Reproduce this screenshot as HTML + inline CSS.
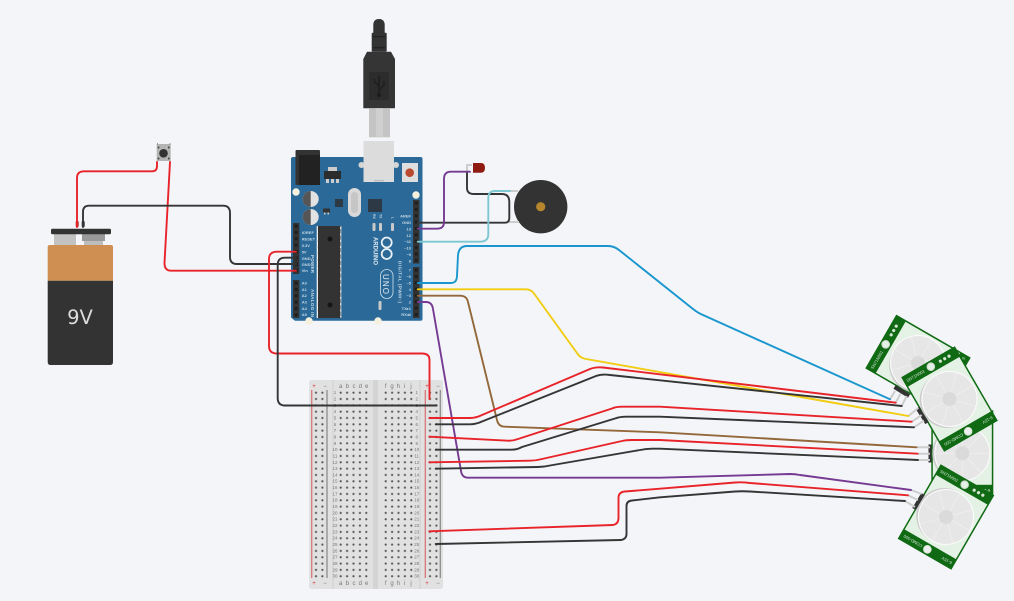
<!DOCTYPE html>
<html><head><meta charset="utf-8"><style>
html,body{margin:0;padding:0;background:#f3f5f8}
svg{display:block}
text{font-family:"Liberation Sans",sans-serif}
.w{fill:none;stroke-width:1.9;stroke-linecap:round;stroke-linejoin:round}
.r{stroke:#e8232a}.k{stroke:#353535}
.s{stroke:#cdcdcd;stroke-width:2;fill:none}
.l{font-size:4px;fill:#c3d6e4;font-weight:bold}
.n{font-size:4.5px;fill:#777;text-anchor:middle}
</style></head><body>
<svg width="1014" height="601" viewBox="0 0 1014 601" xmlns="http://www.w3.org/2000/svg">
<defs>
<pattern id="d" width="6.4" height="6.33" patternUnits="userSpaceOnUse"><circle cx="3.2" cy="3.17" r="1.1" fill="#555"/></pattern>
<pattern id="p" width="6.4" height="6.35" patternUnits="userSpaceOnUse"><rect width="6.4" height="6.35" fill="#333"/><rect x="1.7" y="1.6" width="3" height="3" fill="#1d1d1d"/></pattern>
<g id="pir">
<rect x="-31" y="-43" width="62" height="86" fill="#0f6a13"/>
<rect x="-29.5" y="-31.5" width="59" height="63" fill="#e4f1e5"/>
<circle cx="-2" cy="0" r="28" fill="#cbcbcb"/>
<circle cx="0" cy="0" r="27.5" fill="#e6e6e6" stroke="#fafafa" stroke-width="1.2"/>
<path d="M0-27V27M-27 0H27M-19-19L19 19M-19 19L19-19" stroke="#efefef" stroke-width=".8"/>
<circle cx="0" cy="0" r="7" fill="#dadada"/>
<circle cx="0" cy="-37.3" r="3.8" fill="#e3f0e3" stroke="#d0d8d0"/>
<circle cx="0" cy="37.3" r="3.8" fill="#eee" stroke="#d8e8d8"/>
<circle cx="11" cy="-37.3" r="1.6" fill="#d8e6d8"/><circle cx="16" cy="-37.3" r="1.6" fill="#d8e6d8"/><circle cx="21" cy="-37.3" r="1.6" fill="#d8e6d8"/>
<text x="-28" y="-35.6" font-size="4.2" fill="#cfe3cf">SN71N001</text>
<text transform="translate(-6,35.8) rotate(180)" font-size="4.2" fill="#cfe3cf">COMD-500</text>
<text transform="translate(28,35.8) rotate(180)" font-size="4.2" fill="#cfe3cf">6-15V</text>
</g>
</defs>
<rect width="1014" height="601" fill="#f3f5f8"/>

<!-- battery -->
<rect x="54" y="234" width="22" height="11" fill="#c2c2c2"/>
<rect x="82" y="234" width="23" height="7" fill="#999"/>
<rect x="84" y="241" width="19" height="4" fill="#bdbdbd"/>
<rect x="51" y="228.7" width="60" height="5.6" rx="1.5" fill="#333"/>
<path d="M50 245H111Q113 245 113 247V280.7H47.7V247Q47.7 245 50 245Z" fill="#cf8e52"/>
<path d="M47.7 280.7H113V362Q113 365 110 365H50.7Q47.7 365 47.7 362Z" fill="#333"/>
<text x="80" y="324" font-size="19.5" fill="#ddd" text-anchor="middle" style="font-family:'DejaVu Sans',sans-serif">9V</text>
<rect x="75.7" y="221" width="3" height="6" rx="1" fill="#b52a22"/>
<rect x="81.7" y="221" width="3" height="6" rx="1" fill="#333"/>

<!-- button -->
<rect x="156.7" y="144" width="14" height="17" fill="#b4b4b4"/>
<rect x="157" y="143" width="1" height="2" fill="#999"/><rect x="169.5" y="143" width="1" height="2" fill="#999"/>
<circle cx="163.5" cy="153.3" r="4.3" fill="#333"/>
<circle cx="158.5" cy="147.5" r="1" fill="#444"/><circle cx="168.8" cy="147.5" r="1" fill="#444"/><circle cx="158.5" cy="158.5" r="1" fill="#444"/><circle cx="168.8" cy="158.5" r="1" fill="#444"/>

<!-- USB cable -->
<path d="M373.3 33V25Q373.3 19 379 19Q384.7 19 384.7 25V33Z" fill="#333"/>
<rect x="371.7" y="32.7" width="15" height="19" rx="1" fill="#333"/>
<rect x="373" y="36" width="12" height="1.3" fill="#222"/><rect x="373" y="47" width="12" height="1.3" fill="#222"/>
<path d="M367 51.7H391L395 59V108.3H363.3V59Z" fill="#353535"/>
<rect x="369" y="72" width="20" height="28" fill="#2c2c2c"/>
<path d="M379 76V94M379 86L374.5 82V79M379 90L384 85V81" stroke="#1c1c1c" stroke-width="1.3" fill="none"/><circle cx="379" cy="95" r="2" fill="#1c1c1c"/>
<rect x="369" y="108.3" width="21" height="29" fill="#c4c4c4"/>
<rect x="376" y="108.3" width="7" height="29" fill="#cfcfcf"/>

<!-- arduino -->
<path d="M293 157H420.5Q422.5 157 422.5 159V318.7Q422.5 320.7 420.5 320.7H295L291 317.5V159Q291 157 293 157Z" fill="#2b6a98"/>
<rect x="295.5" y="150" width="24.5" height="35" rx="1" fill="#333"/><rect x="299" y="155" width="21" height="30" fill="#222"/>
<circle cx="361.5" cy="165" r="3" fill="#d5d5d5"/><circle cx="396" cy="165" r="3" fill="#d5d5d5"/>
<rect x="363.5" y="141" width="30.5" height="41" fill="#dcdcdc"/><rect x="374" y="180" width="10" height="1.3" fill="#bbb"/>
<rect x="402" y="163" width="16" height="19" fill="#dedede"/><circle cx="409.7" cy="172.7" r="4.3" fill="#b9492f"/>
<rect x="328" y="167" width="9" height="4" fill="#ccc"/><rect x="324" y="171" width="17" height="8" fill="#2c2c2c"/>
<rect x="326" y="179" width="3" height="4" fill="#ccc"/><rect x="331" y="179" width="3" height="4" fill="#ccc"/><rect x="336" y="179" width="3" height="4" fill="#ccc"/>
<circle cx="296" cy="192" r="3.7" fill="#f5f1de"/><circle cx="416" cy="195" r="3.7" fill="#f5f1de"/><circle cx="309" cy="321" r="3.7" fill="#f5f1de"/><circle cx="378" cy="321" r="3.7" fill="#f5f1de"/>
<circle cx="310.7" cy="199" r="8" fill="#e2e2e2"/><path d="M310.7 191A8 8 0 0 0 310.7 207Z" fill="#555"/>
<circle cx="310.7" cy="217" r="8" fill="#e2e2e2"/><path d="M310.7 209A8 8 0 0 0 310.7 225Z" fill="#555"/>
<rect x="348" y="188" width="13" height="29" rx="6.5" fill="#d9d9d9"/><rect x="351" y="192" width="7" height="21" rx="3.5" fill="#c6c6c6"/>
<rect x="368" y="199" width="14" height="13" fill="#2d3a45"/>
<rect x="335" y="199" width="8" height="8" fill="#2d3a45"/>
<rect x="323" y="208.5" width="7" height="4" fill="#333"/><rect x="324" y="212.5" width="1.5" height="2" fill="#ccc"/><rect x="327.5" y="212.5" width="1.5" height="2" fill="#ccc"/>
<rect x="372.5" y="223" width="3" height="8" rx="1" fill="#c9c9c9"/><rect x="379" y="223" width="3" height="8" rx="1" fill="#c9c9c9"/><rect x="391" y="223" width="3" height="8" rx="1" fill="#c9c9c9"/>
<text transform="translate(373,214) rotate(90)" class="l" style="font-size:3.5px">RX</text>
<text transform="translate(379.5,214) rotate(90)" class="l" style="font-size:3.5px">TX</text>
<text transform="translate(391.5,217) rotate(90)" class="l" style="font-size:3.5px">L</text>
<rect x="316.7" y="226" width="24.6" height="92" fill="#f0f0f0"/>
<rect x="318" y="226" width="22.5" height="92" fill="#333"/>
<path d="M317.4 227V317M340.6 227V317" stroke="#ddd" stroke-width="1.2" stroke-dasharray="2 4.35"/>
<circle cx="330" cy="239" r="2.5" fill="#151515"/><circle cx="330" cy="305" r="2.5" fill="#151515"/>
<g transform="translate(293,223)"><rect width="6.4" height="51" fill="url(#p)"/></g>
<g transform="translate(293,280)"><rect width="6.4" height="38" fill="url(#p)"/></g>
<g transform="translate(413,200)"><rect width="6.4" height="63.5" fill="url(#p)"/></g>
<g transform="translate(413,267)"><rect width="6.4" height="51" fill="url(#p)"/></g>
<circle cx="386.7" cy="242.5" r="5" fill="none" stroke="#e8f0f5" stroke-width="1.8"/><circle cx="386.7" cy="254" r="5" fill="none" stroke="#e8f0f5" stroke-width="1.8"/>
<text transform="translate(373.5,237) rotate(90)" font-size="6" fill="#dce8f0" font-weight="bold" textLength="28">ARDUINO</text>
<rect x="380.5" y="269.5" width="12.5" height="29" rx="6.2" fill="none" stroke="#cfe0ec" stroke-width=".8"/>
<text transform="translate(383,274) rotate(90)" font-size="8" fill="#e8f0f5" textLength="20">UNO</text>
<text transform="translate(398.5,261) rotate(90)" class="l" style="font-size:4.5px" textLength="42">DIGITAL (PWM~)</text>
<text transform="translate(311,255) rotate(90)" class="l" style="font-size:4.5px" textLength="18">POWER</text>
<text transform="translate(311,289) rotate(90)" class="l" style="font-size:4.5px" textLength="28">ANALOG IN</text>
<rect x="378.5" y="301" width="3" height="9" rx="1" fill="#c9c9c9"/>
<g class="l" text-anchor="end">
<text x="411" y="217.5">AREF</text><text x="411" y="224">GND</text><text x="411" y="230.5">13</text><text x="411" y="237">12</text><text x="411" y="243">~11</text><text x="411" y="249.5">~10</text><text x="411" y="256">~9</text><text x="411" y="262.5">8</text><text x="411" y="271.7">7</text><text x="411" y="278">~6</text><text x="411" y="284.5">~5</text><text x="411" y="291">4</text><text x="411" y="297">~3</text><text x="411" y="303.5">2</text><text x="411" y="310">TX▸1</text><text x="411" y="316">RX◂0</text>
</g>
<g class="l">
<text x="301.7" y="234">IOREF</text><text x="301.7" y="240.5">RESET</text><text x="301.7" y="247">3.3V</text><text x="301.7" y="253.5">5V</text><text x="301.7" y="260">GND</text><text x="301.7" y="266">GND</text><text x="301.7" y="272">Vin</text>
<text x="301.7" y="284.5">A0</text><text x="301.7" y="291">A1</text><text x="301.7" y="297">A2</text><text x="301.7" y="303.5">A3</text><text x="301.7" y="310">A4</text><text x="301.7" y="316">A5</text>
</g>

<!-- LED & buzzer -->
<circle cx="540.7" cy="206.7" r="26.7" fill="#333"/><circle cx="540.7" cy="206.7" r="4.6" fill="#b5862c"/>
<path class="s" d="M510 191H518M509 222H519M467 171V165L472 165" />
<path d="M473 163H481Q485 163 485 167.8Q485 172.7 481 172.7H473Z" fill="#8f1a12"/>

<!-- breadboard -->
<rect x="309" y="380" width="134" height="209" rx="2.5" fill="#e1e1e1"/>
<rect x="332" y="380" width="2" height="209" fill="#d8d8d8"/><rect x="373" y="380" width="5" height="209" fill="#d4d4d4"/><rect x="419" y="380" width="2" height="209" fill="#d8d8d8"/>
<path d="M311.7 390V578" stroke="#d9777a" stroke-width="1.3"/><path d="M327 390V578" stroke="#8d8d8d" stroke-width="1.3"/>
<path d="M425.3 390V578" stroke="#d9777a" stroke-width="1.3"/><path d="M440.3 390V578" stroke="#8d8d8d" stroke-width="1.3"/>
<g transform="translate(312.8,389.5)"><rect width="13" height="190" fill="url(#d)"/></g>
<g transform="translate(337.5,389.5)"><rect width="32" height="190" fill="url(#d)"/></g>
<g transform="translate(382.5,389.5)"><rect width="32" height="190" fill="url(#d)"/></g>
<g transform="translate(426.8,389.5)"><rect width="13" height="190" fill="url(#d)"/></g>
<g class="n" style="font-size:6px">
<text x="314" y="388" style="fill:#d33">+</text><text x="325" y="388">−</text><text x="427" y="388" style="fill:#d33">+</text><text x="438" y="388">−</text>
<text x="314" y="585" style="fill:#d33">+</text><text x="325" y="585">−</text><text x="427" y="585" style="fill:#d33">+</text><text x="438" y="585">−</text>
<text x="340.7" y="388">a</text><text x="347.3" y="388">b</text><text x="354" y="388">c</text><text x="360.3" y="388">d</text><text x="366.7" y="388">e</text>
<text x="385.7" y="388">f</text><text x="392" y="388">g</text><text x="398.3" y="388">h</text><text x="404.7" y="388">i</text><text x="411" y="388">j</text>
<text x="340.7" y="585">a</text><text x="347.3" y="585">b</text><text x="354" y="585">c</text><text x="360.3" y="585">d</text><text x="366.7" y="585">e</text>
<text x="385.7" y="585">f</text><text x="392" y="585">g</text><text x="398.3" y="585">h</text><text x="404.7" y="585">i</text><text x="411" y="585">j</text>
</g>
<g class="n">
<text x="335" y="394">1</text><text x="335" y="400.5">2</text><text x="335" y="406.8">3</text><text x="335" y="413.1">4</text><text x="335" y="419.4">5</text><text x="335" y="425.8">6</text><text x="335" y="432.1">7</text><text x="335" y="438.4">8</text><text x="335" y="444.8">9</text><text x="335" y="451.1">10</text><text x="335" y="457.4">11</text><text x="335" y="463.8">12</text><text x="335" y="470.1">13</text><text x="335" y="476.4">14</text><text x="335" y="482.7">15</text><text x="335" y="489.1">16</text><text x="335" y="495.4">17</text><text x="335" y="501.7">18</text><text x="335" y="508.1">19</text><text x="335" y="514.4">20</text><text x="335" y="520.7">21</text><text x="335" y="527.1">22</text><text x="335" y="533.4">23</text><text x="335" y="539.7">24</text><text x="335" y="546">25</text><text x="335" y="552.4">26</text><text x="335" y="558.7">27</text><text x="335" y="565">28</text><text x="335" y="571.4">29</text><text x="335" y="577.7">30</text>
<text x="416.7" y="394">1</text><text x="416.7" y="400.5">2</text><text x="416.7" y="406.8">3</text><text x="416.7" y="413.1">4</text><text x="416.7" y="419.4">5</text><text x="416.7" y="425.8">6</text><text x="416.7" y="432.1">7</text><text x="416.7" y="438.4">8</text><text x="416.7" y="444.8">9</text><text x="416.7" y="451.1">10</text><text x="416.7" y="457.4">11</text><text x="416.7" y="463.8">12</text><text x="416.7" y="470.1">13</text><text x="416.7" y="476.4">14</text><text x="416.7" y="482.7">15</text><text x="416.7" y="489.1">16</text><text x="416.7" y="495.4">17</text><text x="416.7" y="501.7">18</text><text x="416.7" y="508.1">19</text><text x="416.7" y="514.4">20</text><text x="416.7" y="520.7">21</text><text x="416.7" y="527.1">22</text><text x="416.7" y="533.4">23</text><text x="416.7" y="539.7">24</text><text x="416.7" y="546">25</text><text x="416.7" y="552.4">26</text><text x="416.7" y="558.7">27</text><text x="416.7" y="565">28</text><text x="416.7" y="571.4">29</text><text x="416.7" y="577.7">30</text>
</g>

<!-- PIR sensors -->
<use href="#pir" transform="translate(918,363) rotate(-60)"/>
<use href="#pir" transform="translate(962.3,453.3)"/>
<use href="#pir" transform="translate(949.5,399) rotate(-30)"/>
<use href="#pir" transform="translate(946,517) rotate(30)"/>
<path d="M894.5 387L909 396" stroke="#333" stroke-width="4"/>
<path d="M917.5 408L927 423" stroke="#333" stroke-width="4"/>
<path d="M930 444.5V462.5" stroke="#333" stroke-width="3"/>
<path d="M923 494L914 509" stroke="#333" stroke-width="4"/>
<path class="s" d="M890 399.3L895 391M895.7 402.7L900.7 393.3M901.7 406L906.7 396M908.3 416L918.3 408M911.7 421.7L921.7 415M914 427.3L924 420.7M917.7 447.3H930M917.7 453.7H930M918 460H930M911 490L921.7 494M908 495.3L918 500M905 501L915 507"/>

<!-- wires -->
<path class="w r" d="M77 227V178Q77 171.3 84 171.3H152Q157 171.3 157 166V162"/>
<path class="w r" d="M170 162L164.5 263Q164.5 270.7 171 270.7H296"/>
<path class="w k" d="M83 227V212Q83 205.7 89 205.7H223Q230 205.7 230 213V257Q230 264 237 264H296"/>
<path class="w r" d="M296 251.7H277Q269 251.7 269 259V346Q269 353.5 277 353.5H422Q429.5 353.5 429.5 360V399"/>
<path class="w k" d="M296 257.7H285Q277.7 257.7 277.7 265V398Q277.7 405.5 285 405.5H436.5"/>
<path class="w k" d="M417.7 222.7H505Q509.3 222.7 509.3 218V202Q509.3 194 502 194H474Q467 194 467 188V172"/>
<path class="w" stroke="#763a93" d="M417.7 228.7H437Q444 228.7 444 222V179Q444 171.7 451 171.7H470"/>
<path class="w" stroke="#7cc7d0" d="M417.7 241.7H480Q488.3 241.7 488.3 234V198Q488.3 191 495 191H510"/>
<path class="w" stroke="#1a96cf" d="M417.7 283H451Q456.7 283 457 276L458 255Q459 246 467 246H608Q614 246 619 250L693 309Q698 313 703 315L890 399.3"/>
<path class="w" stroke="#f2cc0f" d="M417.7 289.3H526Q531 289.3 534 293.5L577 353Q580 358 586 359L908.3 416"/>
<path class="w" stroke="#93683a" d="M417.7 295.7H460Q466.7 295.7 468 302L497 420Q498.5 426.7 505 426.7L660 432.3L916.7 447.3"/>
<path class="w" stroke="#763a93" d="M417.7 302H426Q432 302 433 309L461 471Q462 477.7 468 477.7H660L790 474Q795 474 800 475L911 490"/>
<path class="w r" d="M429.3 418H470Q476 418 482 415L590 369Q596 366.7 603 367.5L895.7 402.7"/>
<path class="w k" d="M435.7 424.3H470Q476 424.3 482 421.5L596 376Q602 373.7 610 375L901.7 406"/>
<path class="w r" d="M429.3 436.7L508 440.7Q513 441 518 439L612 408.5Q616 406.7 622 406.7H660L911.7 421.7"/>
<path class="w k" d="M435.7 449.7H512Q517 449.7 522 447L615 418.5Q620 416.7 626 416.7H660L914 427.3"/>
<path class="w r" d="M429.3 462.3L530 460.7Q536 460.7 542 459L622 441Q626 440 632 440H660L917.7 453.7"/>
<path class="w k" d="M435.7 468.7L538 467Q544 467 550 465.5L640 450Q646 448.7 652 448.7H660L918 460"/>
<path class="w r" d="M429.3 531.3L613 525Q618.5 524 618.5 518V498Q618.5 492 625 491.5L660 488.7L735 482.5Q742 482 750 483L908 495.3"/>
<path class="w k" d="M435.7 544L621 540Q626.5 539 626.5 534V506Q626.5 501 632 500.5L660 497.3L735 491.5Q742 491 750 491.5L905 501"/>
</svg>
</body></html>
